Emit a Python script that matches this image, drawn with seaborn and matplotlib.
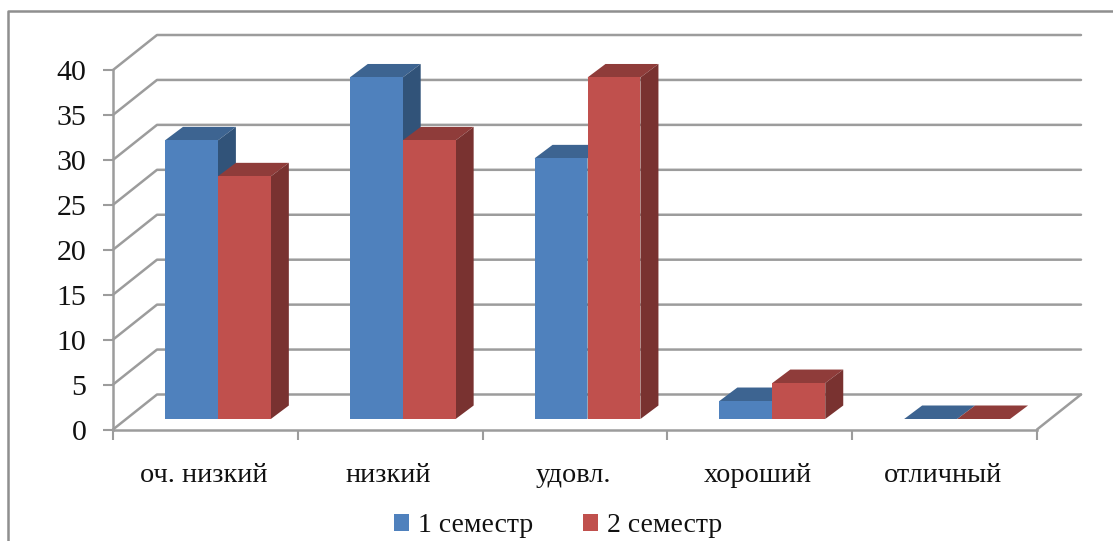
import pandas as pd
import matplotlib
matplotlib.use('Agg')
import matplotlib.pyplot as plt
from matplotlib.lines import Line2D
from matplotlib.patches import Polygon
from matplotlib.transforms import Affine2D, IdentityTransform
import seaborn as sns

categories = ['оч. низкий', 'низкий', 'удовл.', 'хороший', 'отличный']
semester_1 = [31, 38, 29, 2, 0]
semester_2 = [27, 31, 38, 4, 0]
series_names = ['1 семестр', '2 семестр']
y_ticks = [0, 5, 10, 15, 20, 25, 30, 35, 40]

W, H = 1113, 541
GRID = '#9c9c9c'
front_colors = {'1 семестр': '#4F81BD', '2 семестр': '#C0504D'}
top_colors = {'1 семестр': '#3D6491', '2 семестр': '#8F3C3A'}
side_colors = {'1 семестр': '#315379', '2 семестр': '#793230'}

sns.set_theme(style='white')
plt.rcParams['font.family'] = ['Liberation Serif', 'DejaVu Serif']

df = pd.DataFrame({
    'cat': categories * 2,
    'val': semester_1 + semester_2,
    'sem': [series_names[0]] * 5 + [series_names[1]] * 5,
})

fig = plt.figure(figsize=(W / 100, H / 100), dpi=100)
ax = fig.add_axes([113 / W, 1 - 429.5 / H, (1037 - 113) / W, (429.5 - 70) / H])
ax.patch.set_alpha(0)

sns.barplot(data=df, x='cat', y='val', hue='sem', order=categories, hue_order=series_names,
            palette=front_colors, saturation=1, width=0.573, gap=0, ax=ax, zorder=5,
            edgecolor='none', linewidth=0)
ax.set_xlim(-0.5, 4.5)
ax.set_ylim(0, 40)
ax.set_xlabel('')
ax.set_ylabel('')
sns.despine(ax=ax)

for s in ['left', 'bottom']:
    ax.spines[s].set_color(GRID)
    ax.spines[s].set_linewidth(1.8)

ax.set_yticks(y_ticks)
ax.tick_params(axis='y', length=7.2, width=1.5, color=GRID, pad=12, labelsize=21.5, labelcolor='#111111', left=True)
ax.set_xticks(range(len(categories)), categories)
ax.tick_params(axis='x', which='major', length=0, pad=24, labelsize=20.4, labelcolor='#111111')
ax.set_xticks([i - 0.5 for i in range(len(categories) + 1)], minor=True)
ax.tick_params(axis='x', which='minor', length=7.2, width=1.5, color=GRID, bottom=True)
for lab in ax.get_xticklabels():
    lab.set_transform(lab.get_transform() + Affine2D().translate(-2, 0))

# walls and floor, drawn in pixels from the axes scale
ident = IdentityTransform()
wall_dx, wall_dy = 44, 35
for t in y_ticks:
    x0, y0 = ax.transData.transform((-0.5, t))
    x1, y1 = ax.transData.transform((4.5, t))
    ax.add_line(Line2D([x0, x0 + wall_dx, x1 + wall_dx], [y0, y0 + wall_dy, y1 + wall_dy],
                       transform=ident, color=GRID, lw=1.8, clip_on=False, zorder=1))
x1, y1 = ax.transData.transform((4.5, 0))
ax.add_line(Line2D([x1, x1 + wall_dx], [y1, y1 + wall_dy], transform=ident,
                   color=GRID, lw=1.8, clip_on=False, zorder=1))

# pseudo 3d bars: move the front face back a bit, add top and side faces
off_x, off_y = 12.5, 10.5
dep_x, dep_y = 18, 13.5
shift = Affine2D().translate(off_x, off_y)
z = 5.0
for i in range(len(categories)):
    for name, cont in zip(series_names, ax.containers):
        bar = cont.patches[i]
        (xa, ya), (xb, yb) = ax.transData.transform(
            [(bar.get_x(), 0), (bar.get_x() + bar.get_width(), bar.get_height())])
        xa, xb = xa + off_x, xb + off_x
        ya, yb = ya + off_y, yb + off_y
        bar.set_transform(ax.transData + shift)
        bar.set_clip_on(False)
        bar.set_zorder(z + 0.2)
        top = Polygon([(xa, yb), (xb, yb), (xb + dep_x, yb + dep_y), (xa + dep_x, yb + dep_y)],
                      closed=True, transform=ident, fc=top_colors[name], ec='none',
                      clip_on=False, zorder=z)
        ax.add_patch(top)
        if bar.get_height() > 0:
            side = Polygon([(xb, ya), (xb + dep_x, ya + dep_y), (xb + dep_x, yb + dep_y), (xb, yb)],
                           closed=True, transform=ident, fc=side_colors[name], ec='none',
                           clip_on=False, zorder=z)
            ax.add_patch(side)
        z += 1

handles, labels = ax.get_legend_handles_labels()
ax.get_legend().remove()
fig.legend(handles, labels, loc='center', bbox_to_anchor=(558 / W, 1 - 526 / H), ncol=2, frameon=False,
           fontsize=20, handlelength=0.53, handleheight=0.53, handletextpad=0.32, columnspacing=1.8,
           labelcolor='#111111')

# outer chart frame, cut off by the image edge on the right and bottom
fig.add_artist(Line2D([8 / W, 8 / W, 1], [0, 1 - 11 / H, 1 - 11 / H], transform=fig.transFigure,
                      color='#8f8f8f', lw=1.8))

fig.savefig('out.png', dpi=100, facecolor='white')
plt.close()
